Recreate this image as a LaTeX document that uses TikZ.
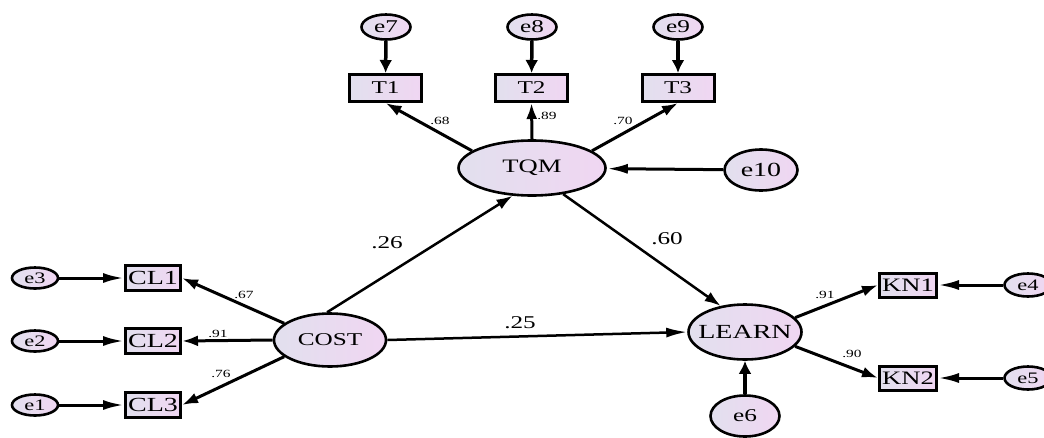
\documentclass[tikz,border=0pt]{standalone}
\usepackage{fontspec}
\setmainfont{Liberation Serif}
\newfontfamily\wf[FakeStretch=1.4]{Liberation Serif}
\newcommand\fsz[1]{\fontsize{#1}{#1}\selectfont\wf}
\usetikzlibrary{arrows.meta,shapes.geometric}
\definecolor{fillL}{HTML}{E2E0EE}
\definecolor{fillR}{HTML}{F0D6F2}
\tikzset{
  lv/.style={ellipse, draw=black, line width=2.6pt, left color=fillL, right color=fillR, inner sep=0pt},
  obs/.style n args={2}{rectangle, draw=black, line width=3pt, left color=fillL, right color=fillR,
    minimum width=#1, minimum height=#2, inner sep=0pt},
  vh/.style={-{Latex[length=13pt,width=13pt]}},
  hh/.style={-{Latex[length=21pt,width=10pt]}},
  dh/.style={-{Latex[length=16pt,width=11pt]}},
  erv/.style={vh, line width=3.5pt},
  erh/.style={hh, line width=3pt},
  load/.style={dh, line width=3pt},
  spath/.style={dh, line width=2.5pt},
  sm/.style={font=\fsz{11}, inner sep=0pt},
  bg/.style={font=\fsz{18}, inner sep=0pt},
}
\begin{document}
\begin{tikzpicture}[x=1pt,y=-1pt]
\path[use as bounding box, fill=white] (0,0) rectangle (1044,437);
\clip (0,0) rectangle (1044,437);
% error terms
\node[lv, minimum width=49pt, minimum height=25pt, label={[font=\fsz{18}]center:e7}] (e7) at (386,27) {};
\node[lv, minimum width=49pt, minimum height=25pt, label={[font=\fsz{18}]center:e8}] (e8) at (532,27) {};
\node[lv, minimum width=49pt, minimum height=25pt, label={[font=\fsz{18}]center:e9}] (e9) at (678,27) {};
\node[lv, minimum width=73pt, minimum height=41pt, label={[font=\fsz{20}]center:e10}] (e10) at (761,170) {};
\node[lv, minimum width=46pt, minimum height=21pt, label={[font=\fsz{16}]center:e3}] (e3) at (35,278) {};
\node[lv, minimum width=46pt, minimum height=21pt, label={[font=\fsz{16}]center:e2}] (e2) at (35,341) {};
\node[lv, minimum width=46pt, minimum height=21pt, label={[font=\fsz{16}]center:e1}] (e1) at (35,405) {};
\node[lv, minimum width=47pt, minimum height=23pt, label={[font=\fsz{16}]center:e4}] (e4) at (1028,285) {};
\node[lv, minimum width=47pt, minimum height=23pt, label={[font=\fsz{16}]center:e5}] (e5) at (1028,378) {};
\node[lv, minimum width=69pt, minimum height=41pt, label={[font=\fsz{18}]center:e6}] (e6) at (745,416) {};
% latent
\node[lv, minimum width=147pt, minimum height=55pt, label={[font=\fsz{19}]center:TQM}] (TQM) at (532,168) {};
\node[lv, minimum width=112pt, minimum height=53pt, label={[font=\fsz{18}]center:COST}] (COST) at (330,340) {};
\node[lv, minimum width=113pt, minimum height=55pt, label={[font=\fsz{20}]center:LEARN}] (LEARN) at (745,332) {};
% observed
\node[obs={72pt}{27pt}, font=\fsz{18}] (T1) at (385.5,88) {T1};
\node[obs={72pt}{27pt}, font=\fsz{18}] (T2) at (531.5,88) {T2};
\node[obs={72pt}{27pt}, font=\fsz{18}] (T3) at (678,88) {T3};
\node[obs={55pt}{25pt}, font=\fsz{20}] (CL1) at (153,278) {CL1};
\node[obs={55pt}{25pt}, font=\fsz{20}] (CL2) at (153,341) {CL2};
\node[obs={55pt}{25pt}, font=\fsz{20}] (CL3) at (153,405) {CL3};
\node[obs={57pt}{24pt}, font=\fsz{19}] (KN1) at (908,285) {KN1};
\node[obs={57pt}{24pt}, font=\fsz{19}] (KN2) at (908,378) {KN2};
% error arrows
\draw[erv] (e7) -- (T1);
\draw[erv] (e8) -- (T2);
\draw[erv] (e9) -- (T3);
\draw[erv] (e6) -- (LEARN);
\draw[erh] (e10) -- (TQM);
\draw[erh] (e3) -- (CL1);
\draw[erh] (e2) -- (CL2);
\draw[erh] (e1) -- (CL3);
\draw[erh] (e4) -- (KN1);
\draw[erh] (e5) -- (KN2);
% loadings
\draw[load] (TQM.164) -- (T1.south);
\draw[load] (TQM.north) -- (T2.south);
\draw[load] (TQM.16) -- (T3.south);
\draw[load] (COST.160) -- (CL1.east);
\draw[load] (COST.west) -- (CL2.east);
\draw[load] (COST.200) -- (CL3.east);
\draw[load] (LEARN.16) -- (KN1.west);
\draw[load] (LEARN.-16) -- (KN2.west);
% structural paths
\draw[spath] (COST.96) -- (TQM.235);
\draw[spath] (TQM.-40) -- (LEARN.133);
\draw[spath, hh] (COST.east) -- (LEARN.west);
% labels
\node[sm] (l68) at (440,121) {.68};
\node[sm] (l89) at (547,116) {.89};
\node[sm] (l70) at (623,121) {.70};
\node[sm] (l67) at (244,295) {.67};
\node[sm] (l91a) at (218,334) {.91};
\node[sm] (l76) at (221,374) {.76};
\node[sm] (l91b) at (825,295) {.91};
\node[sm] (l90) at (852,354) {.90};
\node[bg] (l26) at (387,243) {.26};
\node[bg] (l60) at (667,239) {.60};
\node[bg] (l25) at (520,323) {.25};
\end{tikzpicture}
\end{document}
